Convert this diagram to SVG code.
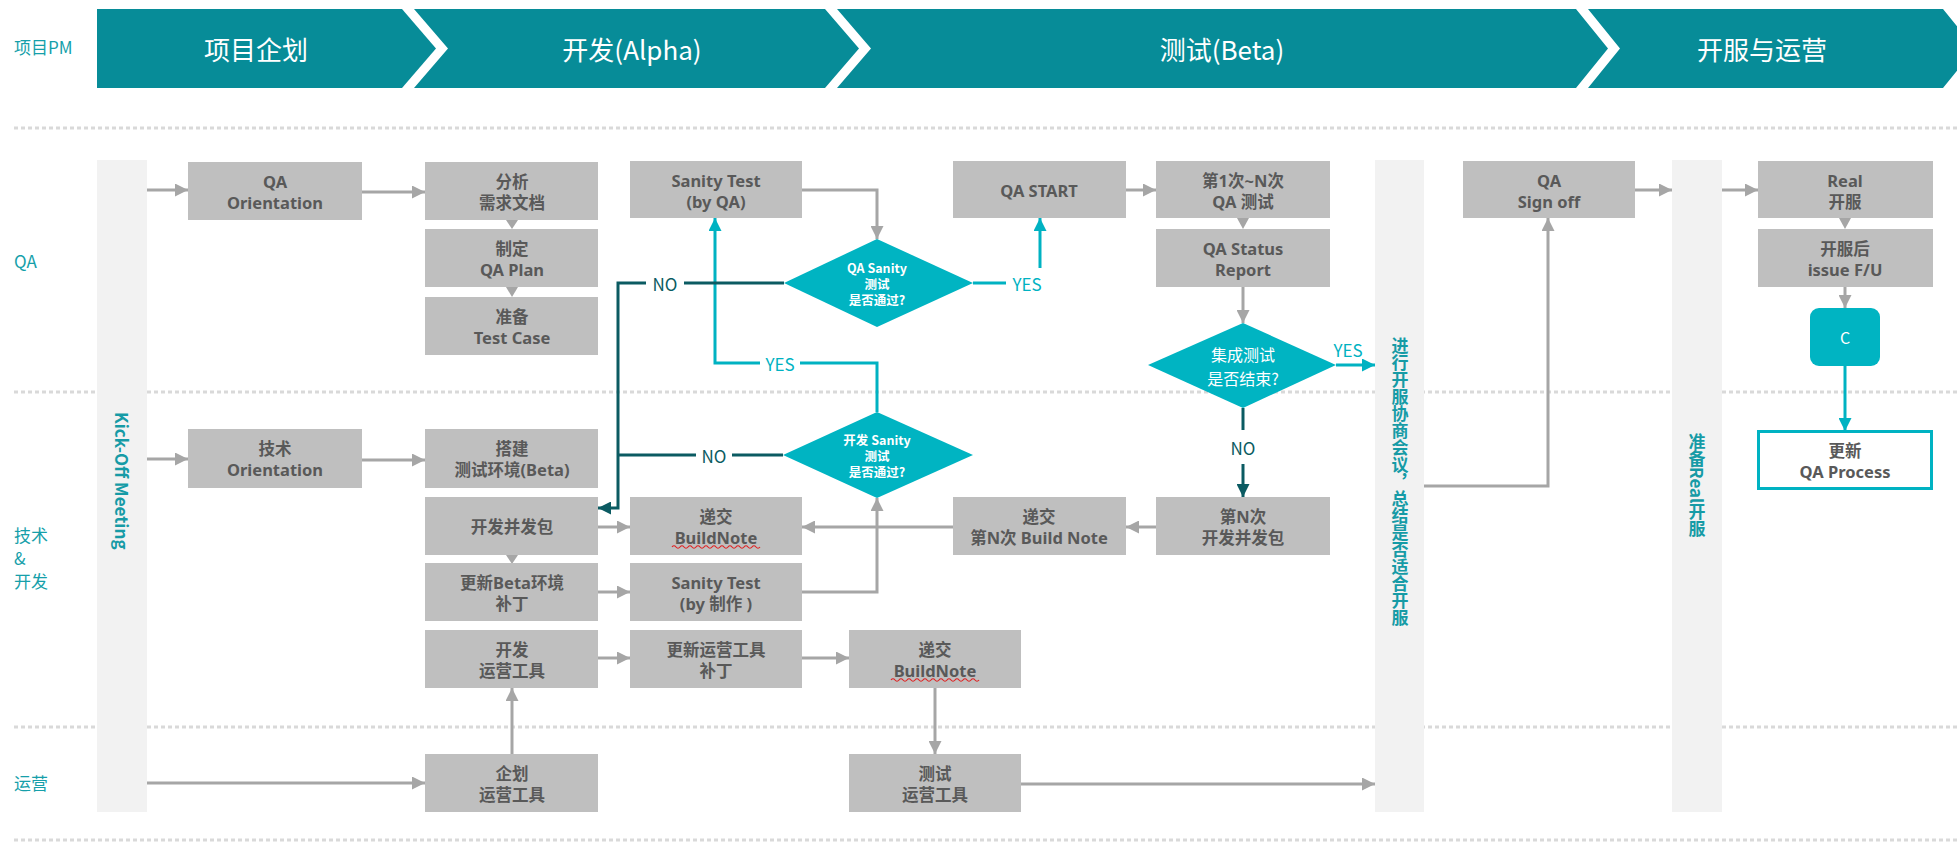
<svg xmlns="http://www.w3.org/2000/svg" width="1957" height="843" viewBox="0 0 1957 843">
<style>
.bar{fill:#078C98}
.ht{font-family:"Noto Sans CJK SC","Noto Sans",sans-serif;font-size:26px;fill:#ffffff;text-anchor:middle;dominant-baseline:central}
.lane{font-family:"Noto Sans CJK SC","Noto Sans",sans-serif;font-size:17px;fill:#169FAA}
.dot{stroke:#D9D9D9;stroke-width:3;stroke-dasharray:4 3;fill:none}
.col{fill:#F2F2F2}
.ct{font-family:"Noto Sans CJK SC","Noto Sans",sans-serif;font-weight:700;font-size:17px;fill:#169BA6}
.box{fill:#BFBFBF}
.bt{font-family:"Noto Sans","Noto Sans CJK SC",sans-serif;font-weight:700;font-size:16.5px;fill:#595959;text-anchor:middle;dominant-baseline:central}
.dia{fill:#00B4C2}
.dt{font-family:"Noto Sans CJK SC","Noto Sans",sans-serif;font-weight:700;font-size:12.5px;fill:#ffffff;text-anchor:middle;dominant-baseline:central}
.dt2{font-family:"Noto Sans CJK SC","Noto Sans",sans-serif;font-size:16px;fill:#ffffff;text-anchor:middle;dominant-baseline:central}
.g{stroke:#A6A6A6;stroke-width:3;fill:none}
.tl{stroke:#00B2C2;stroke-width:3;fill:none}
.dk{stroke:#0B5B62;stroke-width:3;fill:none}
.tri{fill:#A6A6A6}
.lbn{font-family:"Noto Sans CJK SC","Noto Sans",sans-serif;font-size:17px;fill:#0B5B62;text-anchor:middle;dominant-baseline:central}
.lby{font-family:"Noto Sans CJK SC","Noto Sans",sans-serif;font-size:17px;fill:#00B2C2;text-anchor:middle;dominant-baseline:central}
.sq{stroke:#E02020;stroke-width:1.2;fill:none}
</style>
<defs>
<marker id="ag" markerUnits="userSpaceOnUse" markerWidth="13" markerHeight="13" refX="13" refY="6.5" orient="auto"><path d="M0,0 L13,6.5 L0,13 z" fill="#A6A6A6"/></marker>
<marker id="at" markerUnits="userSpaceOnUse" markerWidth="13" markerHeight="13" refX="13" refY="6.5" orient="auto"><path d="M0,0 L13,6.5 L0,13 z" fill="#00B2C2"/></marker>
<marker id="ad" markerUnits="userSpaceOnUse" markerWidth="13" markerHeight="13" refX="13" refY="6.5" orient="auto"><path d="M0,0 L13,6.5 L0,13 z" fill="#0B5B62"/></marker>
</defs>

<g id="header">
<polygon class="bar" points="97,9 402,9 436,48.5 402,88 97,88"/>
<polygon class="bar" points="414,9 825,9 859,48.5 825,88 414,88 448,48.5"/>
<polygon class="bar" points="837,9 1576,9 1608,48.5 1576,88 837,88 871,48.5"/>
<polygon class="bar" points="1588,9 1943,9 1975,48.5 1943,88 1588,88 1620,48.5"/>
<text class="ht" x="256" y="48">项目企划</text>
<text class="ht" x="632" y="48">开发(Alpha)</text>
<text class="ht" x="1222" y="48">测试(Beta)</text>
<text class="ht" x="1762" y="48">开服与运营</text>
</g>

<g id="lanes">
<text class="lane" x="14" y="54" font-size="15">项目PM</text>
<text class="lane" x="14" y="268">QA</text>
<text class="lane" x="14" y="542" font-size="15.5">技术</text>
<text class="lane" x="14" y="565" font-size="15.5">&amp;</text>
<text class="lane" x="14" y="588" font-size="15.5">开发</text>
<text class="lane" x="14" y="790">运营</text>
<line class="dot" x1="14" y1="128" x2="1957" y2="128"/>
<line class="dot" x1="14" y1="392" x2="1957" y2="392"/>
<line class="dot" x1="14" y1="727" x2="1957" y2="727"/>
<line class="dot" x1="14" y1="840" x2="1957" y2="840"/>
</g>

<g id="kickoff">
<rect class="col" x="97" y="160" width="50" height="652"/>
<text class="ct" transform="translate(115,412) rotate(90)" font-size="16.5">Kick-Off Meeting</text>
</g>
<g id="meeting">
<rect class="col" x="1375" y="160" width="49" height="652"/>
<text class="ct" x="1400" y="337" writing-mode="tb">进行开服协商会议，总结是否适合开服</text>
</g>
<g id="prepare">
<rect class="col" x="1672" y="160" width="50" height="652"/>
<text class="ct" x="1697" y="433" writing-mode="tb">准备Real开服</text>
</g>

<g id="connectors">
<path class="g" d="M147,190 H188" marker-end="url(#ag)"/>
<path class="g" d="M362,192 H425" marker-end="url(#ag)"/>
<path class="g" d="M147,459 H188" marker-end="url(#ag)"/>
<path class="g" d="M362,460 H425" marker-end="url(#ag)"/>
<path class="g" d="M147,783 H425" marker-end="url(#ag)"/>
<path class="g" d="M512,754 V688" marker-end="url(#ag)"/>
<path class="g" d="M598,527 H630" marker-end="url(#ag)"/>
<path class="g" d="M598,592 H630" marker-end="url(#ag)"/>
<path class="g" d="M598,658 H630" marker-end="url(#ag)"/>
<path class="g" d="M802,658 H849" marker-end="url(#ag)"/>
<path class="g" d="M935,688 V754" marker-end="url(#ag)"/>
<path class="g" d="M1021,784 H1375" marker-end="url(#ag)"/>
<path class="g" d="M802,592 H877 V498" marker-end="url(#ag)"/>
<path class="g" d="M1156,527 H1126" marker-end="url(#ag)"/>
<path class="g" d="M953,527 H802" marker-end="url(#ag)"/>
<path class="g" d="M802,190 H877 V239" marker-end="url(#ag)"/>
<path class="g" d="M1126,190 H1156" marker-end="url(#ag)"/>
<path class="g" d="M1243,287 V323" marker-end="url(#ag)"/>
<path class="g" d="M1424,486 H1548 V218" marker-end="url(#ag)"/>
<path class="g" d="M1635,190 H1672" marker-end="url(#ag)"/>
<path class="g" d="M1722,190 H1758" marker-end="url(#ag)"/>
<path class="g" d="M1845,287 V308" marker-end="url(#ag)"/>
<polygon class="tri" points="506,220 518,220 512,229"/>
<polygon class="tri" points="506,287 518,287 512,297"/>
<polygon class="tri" points="506,555 518,555 512,564"/>
<polygon class="tri" points="1237,218 1249,218 1243,229"/>
<polygon class="tri" points="1839,218 1851,218 1845,229"/>
<path class="tl" d="M1845,366 V431" marker-end="url(#at)"/>
<path class="tl" d="M973,283 H1006"/>
<path class="tl" d="M1040,268 V218" marker-end="url(#at)"/>
<path class="tl" d="M877,412 V363 H800"/>
<path class="tl" d="M760,363 H715 V218" marker-end="url(#at)"/>
<path class="tl" d="M1336,365 H1375" marker-end="url(#at)"/>
<path class="dk" d="M784,283 H684"/>
<path class="dk" d="M646,283 H618 V508 H598" marker-end="url(#ad)"/>
<path class="dk" d="M783,455 H732"/>
<path class="dk" d="M696,455 H618"/>
<path class="dk" d="M1243,408 V430"/>
<path class="dk" d="M1243,464 V497" marker-end="url(#ad)"/>
<text class="lbn" x="665" y="283">NO</text>
<text class="lbn" x="714" y="455">NO</text>
<text class="lbn" x="1243" y="447">NO</text>
<text class="lby" x="1027" y="283">YES</text>
<text class="lby" x="780" y="363">YES</text>
<text class="lby" x="1348" y="349">YES</text>
</g>

<g id="n-qa-orientation"><rect class="box" x="188" y="162" width="174" height="58"/><text class="bt" x="275" y="181">QA</text><text class="bt" x="275" y="202">Orientation</text></g>
<g id="n-analysis"><rect class="box" x="425" y="162" width="173" height="58"/><text class="bt" x="512" y="181">分析</text><text class="bt" x="512" y="202">需求文档</text></g>
<g id="n-qa-plan"><rect class="box" x="425" y="229" width="173" height="58"/><text class="bt" x="512" y="248">制定</text><text class="bt" x="512" y="269">QA Plan</text></g>
<g id="n-test-case"><rect class="box" x="425" y="297" width="173" height="58"/><text class="bt" x="512" y="316">准备</text><text class="bt" x="512" y="337">Test Case</text></g>
<g id="n-tech-orientation"><rect class="box" x="188" y="429" width="174" height="59"/><text class="bt" x="275" y="448">技术</text><text class="bt" x="275" y="469">Orientation</text></g>
<g id="n-build-env"><rect class="box" x="425" y="429" width="173" height="59"/><text class="bt" x="512" y="448">搭建</text><text class="bt" x="512" y="469">测试环境(Beta)</text></g>
<g id="n-dev-package"><rect class="box" x="425" y="497" width="173" height="58"/><text class="bt" x="512" y="526">开发并发包</text></g>
<g id="n-beta-patch"><rect class="box" x="425" y="563" width="173" height="58"/><text class="bt" x="512" y="582">更新Beta环境</text><text class="bt" x="512" y="603">补丁</text></g>
<g id="n-dev-tool"><rect class="box" x="425" y="630" width="173" height="58"/><text class="bt" x="512" y="649">开发</text><text class="bt" x="512" y="670">运营工具</text></g>
<g id="n-plan-tool"><rect class="box" x="425" y="754" width="173" height="58"/><text class="bt" x="512" y="773">企划</text><text class="bt" x="512" y="794">运营工具</text></g>
<g id="n-sanity-qa"><rect class="box" x="630" y="161" width="172" height="57"/><text class="bt" x="716" y="180">Sanity Test</text><text class="bt" x="716" y="201">(by QA)</text></g>
<g id="n-qa-start"><rect class="box" x="953" y="161" width="173" height="57"/><text class="bt" x="1039" y="190">QA START</text></g>
<g id="n-qa-test"><rect class="box" x="1156" y="161" width="174" height="57"/><text class="bt" x="1243" y="180">第1次~N次</text><text class="bt" x="1243" y="201">QA 测试</text></g>
<g id="n-qa-status"><rect class="box" x="1156" y="229" width="174" height="58"/><text class="bt" x="1243" y="248">QA Status</text><text class="bt" x="1243" y="269">Report</text></g>
<g id="n-buildnote"><rect class="box" x="630" y="497" width="172" height="58"/><text class="bt" x="716" y="516">递交</text><text class="bt" x="716" y="537">BuildNote</text><path class="sq" d="M672,547 q2,-2.5 4,0 t4,0 t4,0 t4,0 t4,0 t4,0 t4,0 t4,0 t4,0 t4,0 t4,0 t4,0 t4,0 t4,0 t4,0 t4,0 t4,0 t4,0 t4,0 t4,0 t4,0 t4,0"/></g>
<g id="n-sanity-dev"><rect class="box" x="630" y="563" width="172" height="58"/><text class="bt" x="716" y="582">Sanity Test</text><text class="bt" x="716" y="603">(by 制作 )</text></g>
<g id="n-tool-patch"><rect class="box" x="630" y="630" width="172" height="58"/><text class="bt" x="716" y="649">更新运营工具</text><text class="bt" x="716" y="670">补丁</text></g>
<g id="n-buildnote2"><rect class="box" x="849" y="630" width="172" height="58"/><text class="bt" x="935" y="649">递交</text><text class="bt" x="935" y="670">BuildNote</text><path class="sq" d="M891,680 q2,-2.5 4,0 t4,0 t4,0 t4,0 t4,0 t4,0 t4,0 t4,0 t4,0 t4,0 t4,0 t4,0 t4,0 t4,0 t4,0 t4,0 t4,0 t4,0 t4,0 t4,0 t4,0 t4,0"/></g>
<g id="n-test-tool"><rect class="box" x="849" y="754" width="172" height="58"/><text class="bt" x="935" y="773">测试</text><text class="bt" x="935" y="794">运营工具</text></g>
<g id="n-nth-buildnote"><rect class="box" x="953" y="497" width="173" height="58"/><text class="bt" x="1039" y="516">递交</text><text class="bt" x="1039" y="537">第N次 Build Note</text></g>
<g id="n-nth-package"><rect class="box" x="1156" y="497" width="174" height="58"/><text class="bt" x="1243" y="516">第N次</text><text class="bt" x="1243" y="537">开发并发包</text></g>
<g id="n-signoff"><rect class="box" x="1463" y="161" width="172" height="57"/><text class="bt" x="1549" y="180">QA</text><text class="bt" x="1549" y="201">Sign off</text></g>
<g id="n-real-open"><rect class="box" x="1758" y="161" width="175" height="57"/><text class="bt" x="1845" y="180">Real</text><text class="bt" x="1845" y="201">开服</text></g>
<g id="n-issue-fu"><rect class="box" x="1758" y="229" width="175" height="58"/><text class="bt" x="1845" y="248">开服后</text><text class="bt" x="1845" y="269">issue F/U</text></g>
<g id="n-c"><rect class="dia" x="1810" y="308" width="70" height="58" rx="9"/><text class="dt2" x="1845" y="337" font-size="22">C</text></g>
<g id="n-update-process"><rect x="1758.5" y="431.5" width="173" height="57" fill="#ffffff" stroke="#00B2C2" stroke-width="3"/><text class="bt" x="1845" y="450">更新</text><text class="bt" x="1845" y="471">QA Process</text></g>

<g id="d-qa-sanity"><polygon class="dia" points="877,239 973,283 877,327 784,283"/><text class="dt" x="877" y="267">QA Sanity</text><text class="dt" x="877" y="283">测试</text><text class="dt" x="877" y="299">是否通过?</text></g>
<g id="d-dev-sanity"><polygon class="dia" points="877,412 973,455 877,498 783,455"/><text class="dt" x="877" y="439">开发 Sanity</text><text class="dt" x="877" y="455">测试</text><text class="dt" x="877" y="471">是否通过?</text></g>
<g id="d-integration"><polygon class="dia" points="1243,323 1336,365 1243,408 1148,365"/><text class="dt2" x="1243" y="354">集成测试</text><text class="dt2" x="1243" y="378">是否结束?</text></g>
</svg>
